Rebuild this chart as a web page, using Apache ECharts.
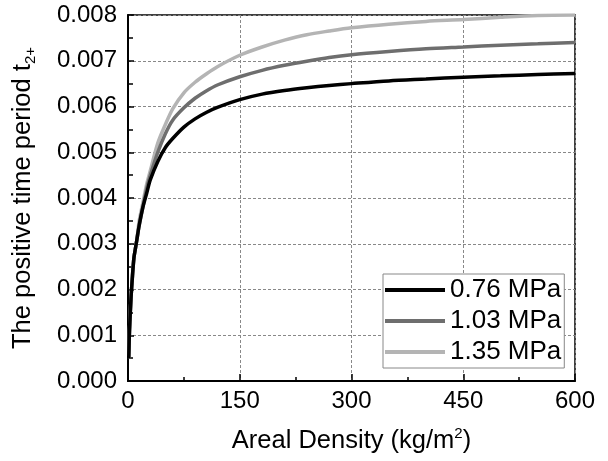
<!DOCTYPE html>
<html>
<head>
<meta charset="utf-8">
<script src="https://cdn.jsdelivr.net/npm/echarts@6/dist/echarts.min.js"></script>
<style>html,body{margin:0;padding:0;background:#fff}#c{width:608px;height:461px}</style>
</head>
<body>
<div id="c"></div>
<script>
var xValues = [1, 2, 4, 6, 8, 10, 12, 15, 20, 25, 30, 40, 50, 60, 75, 90, 105, 120, 150, 180, 210, 240, 270, 300, 350, 400, 450, 500, 550, 600];
var p076 = [0.0005, 0.0011, 0.0018, 0.0023, 0.0027, 0.0029, 0.0031, 0.0034, 0.0038, 0.0041, 0.0044, 0.0048, 0.0051, 0.0053, 0.00555, 0.00573, 0.00587, 0.00598, 0.00615, 0.00627, 0.00635, 0.00641, 0.00646, 0.0065, 0.00656, 0.0066, 0.00664, 0.00667, 0.0067, 0.00672];
var p103 = [0.0005, 0.0011, 0.0018, 0.0023, 0.0027, 0.0029, 0.0031, 0.0034, 0.0038, 0.0042, 0.0045, 0.0050, 0.0054, 0.0057, 0.00597, 0.00618, 0.00634, 0.00647, 0.00665, 0.00679, 0.0069, 0.00699, 0.00707, 0.00713, 0.0072, 0.00726, 0.0073, 0.00734, 0.00737, 0.0074];
var p135 = [0.0005, 0.0011, 0.0018, 0.0023, 0.0027, 0.0029, 0.0031, 0.0035, 0.0039, 0.0043, 0.0046, 0.0052, 0.0056, 0.00595, 0.0063, 0.00653, 0.00671, 0.00687, 0.00712, 0.0073, 0.00745, 0.00757, 0.00765, 0.00772, 0.0078, 0.00786, 0.0079, 0.00795, 0.00799, 0.0080];
var seriesNames = ['0.76 MPa', '1.03 MPa', '1.35 MPa'];
var seriesColors = ['#000000', '#6e6e6e', '#b4b4b4'];
var xTicks = [0, 150, 300, 450, 600];
var yTicks = [0, 0.001, 0.002, 0.003, 0.004, 0.005, 0.006, 0.007, 0.008];

function pairs(ys) { return xValues.map(function (x, i) { return [x, ys[i]]; }); }
var allData = [p076, p103, p135];
var FONT = 'Liberation Sans, Arial, sans-serif';

var chart = echarts.init(document.getElementById('c'), null, {renderer: 'canvas'});
chart.setOption({
  animation: false,
  backgroundColor: '#fff',
  grid: {left: 128, right: 33, top: 15, bottom: 80, show: true, borderColor: '#000', borderWidth: 1.5, backgroundColor: 'transparent'},
  legend: {
    orient: 'vertical', left: 383, top: 274,
    padding: [3, 3, 3, 2], itemGap: 5, itemWidth: 60, itemHeight: 4,
    borderColor: '#888', borderWidth: 1, backgroundColor: '#fff', borderRadius: 0,
    icon: 'rect',
    textStyle: {fontSize: 26, lineHeight: 26, fontFamily: FONT, color: '#000'},
    data: seriesNames
  },
  xAxis: {
    type: 'value', min: xTicks[0], max: xTicks[xTicks.length - 1], interval: 150,
    axisLine: {lineStyle: {color: '#000', width: 2}},
    axisTick: {inside: true, length: 7, lineStyle: {color: '#000', width: 1.5}},
    minorTick: {show: true, splitNumber: 2, length: 4, lineStyle: {color: '#000', width: 1.5}},
    axisLabel: {fontSize: 24, fontFamily: FONT, color: '#000', margin: 8},
    splitLine: {show: true, lineStyle: {color: '#888', width: 1, type: [3, 2]}},
    name: '{a|Areal Density (kg/m}{sup|2}{a|)}',
    nameLocation: 'middle', nameGap: 45,
    nameTextStyle: {
      rich: {
        a: {fontSize: 25.5, fontFamily: FONT, color: '#000', lineHeight: 30},
        sup: {fontSize: 15, fontFamily: FONT, color: '#000', verticalAlign: 'top'}
      }
    }
  },
  yAxis: {
    type: 'value', min: yTicks[0], max: yTicks[yTicks.length - 1], interval: 0.001,
    axisLine: {lineStyle: {color: '#000', width: 2}},
    axisTick: {inside: true, length: 6, lineStyle: {color: '#000', width: 1.5}},
    minorTick: {show: true, splitNumber: 2, length: 5, lineStyle: {color: '#000', width: 1.5}},
    axisLabel: {fontSize: 24, fontFamily: FONT, color: '#000', margin: 11, formatter: function (v) { return v.toFixed(3); }},
    splitLine: {show: true, lineStyle: {color: '#888', width: 1, type: [3, 2]}},
    name: '{a|The positive time period t}{sub|2+}',
    nameLocation: 'middle', nameGap: 90,
    nameTextStyle: {
      rich: {
        a: {fontSize: 25.5, fontFamily: FONT, color: '#000', lineHeight: 30},
        sub: {fontSize: 15, fontFamily: FONT, color: '#000', verticalAlign: 'bottom'}
      }
    }
  },
  series: seriesNames.map(function (n, i) {
    return {
      name: n, type: 'line', data: pairs(allData[i]), symbol: 'none', smooth: 0.3,
      lineStyle: {color: seriesColors[i], width: 3.5},
      itemStyle: {color: seriesColors[i]},
      z: 3 - i + 2
    };
  })
});
</script>
</body>
</html>
